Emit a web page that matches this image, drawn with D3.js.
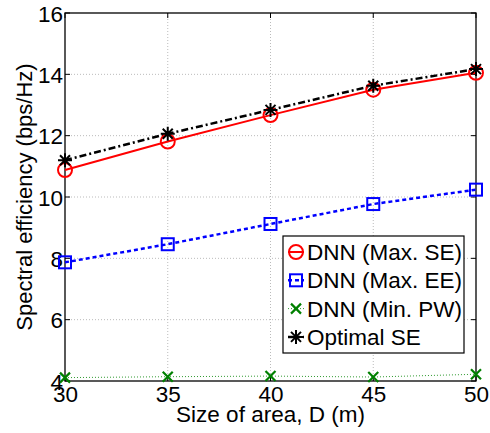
<!DOCTYPE html>
<html><head><meta charset="utf-8">
<script src="https://cdn.jsdelivr.net/npm/d3@7"></script>
<style>body{margin:0;background:#fff}svg{display:block}text{font-family:"Liberation Sans",Arial,sans-serif}</style>
</head><body><svg id="c" width="490" height="433"></svg>
<script>
const xValues = [30, 35, 40, 45, 50];
const maxSE = [10.88, 11.81, 12.67, 13.5, 14.05];
const maxEE = [7.87, 8.46, 9.12, 9.77, 10.24];
const minPW = [4.11, 4.14, 4.16, 4.13, 4.22];
const optSE = [11.2, 12.06, 12.84, 13.63, 14.17];
const xTicks = [30, 35, 40, 45, 50];
const yTicks = [4, 6, 8, 10, 12, 14, 16];
const seriesNames = ["DNN (Max. SE)", "DNN (Max. EE)", "DNN (Min. PW)", "Optimal SE"];

const svg = d3.select("#c");
const L = 65, R = 476, T = 13, B = 381;
const x = d3.scaleLinear().domain([30, 50]).range([L, R]);
const y = d3.scaleLinear().domain([4, 16]).range([B, T]);
const fs = 22.5;

// grid
const g = svg.append("g");
g.selectAll(".gx").data(xTicks.slice(1, -1)).enter().append("line")
  .attr("x1", d => x(d)).attr("x2", d => x(d)).attr("y1", T).attr("y2", B)
  .attr("stroke", "#bbb").attr("stroke-width", 1).attr("stroke-dasharray", "1,2");
g.selectAll(".gy").data(yTicks.slice(1, -1)).enter().append("line")
  .attr("y1", d => y(d)).attr("y2", d => y(d)).attr("x1", L).attr("x2", R)
  .attr("stroke", "#bbb").attr("stroke-width", 1).attr("stroke-dasharray", "1,2");

// axes
const axB = d3.axisBottom(x).tickValues(xTicks).tickSize(0).tickPadding(5).tickFormat(d3.format("d"));
const axL = d3.axisLeft(y).tickValues(yTicks).tickSize(0).tickPadding(2).tickFormat(d3.format("d"));
const gb = svg.append("g").attr("transform", `translate(0,${B})`).call(axB);
const gl = svg.append("g").attr("transform", `translate(${L},0)`).call(axL);
[gb, gl].forEach(a => { a.select(".domain").remove(); a.selectAll("text").attr("font-size", fs).attr("fill", "#000").style("font-family", '"Liberation Sans",Arial,sans-serif'); });
gl.selectAll("text").attr("dy", "0.36em");

// inner ticks on all sides
const tk = 5;
const tg = svg.append("g").attr("stroke", "#000").attr("stroke-width", 1);
xTicks.forEach(d => {
  tg.append("line").attr("x1", x(d)).attr("x2", x(d)).attr("y1", B).attr("y2", B - tk);
  tg.append("line").attr("x1", x(d)).attr("x2", x(d)).attr("y1", T).attr("y2", T + tk);
});
yTicks.forEach(d => {
  tg.append("line").attr("y1", y(d)).attr("y2", y(d)).attr("x1", L).attr("x2", L + tk);
  tg.append("line").attr("y1", y(d)).attr("y2", y(d)).attr("x1", R).attr("x2", R - tk);
});
svg.append("rect").attr("x", L).attr("y", T).attr("width", R - L).attr("height", B - T)
  .attr("fill", "none").attr("stroke", "#000").attr("stroke-width", 1.3);

// labels
svg.append("text").attr("x", (L + R) / 2).attr("y", 422).attr("text-anchor", "middle")
  .attr("font-size", fs).text("Size of area, D (m)");
svg.append("text").attr("transform", `translate(32,${(T + B) / 2}) rotate(-90)`).attr("text-anchor", "middle")
  .attr("font-size", 22).text("Spectral efficiency (bps/Hz)");

// markers
function marker(sel, type, color) {
  if (type === "o") sel.append("circle").attr("r", 7).attr("fill", "none").attr("stroke", color).attr("stroke-width", 2);
  else if (type === "s") sel.append("rect").attr("x", -6).attr("y", -6).attr("width", 12).attr("height", 12).attr("fill", "none").attr("stroke", color).attr("stroke-width", 2);
  else if (type === "x") sel.append("path").attr("d", "M-5,-5L5,5M-5,5L5,-5").attr("stroke", color).attr("stroke-width", 2.2);
  else if (type === "*") sel.append("path").attr("d", "M0,-7L0,7M-7,0L7,0M-5,-5L5,5M-5,5L5,-5").attr("stroke", color).attr("stroke-width", 2);
}

const series = [
  { name: seriesNames[0], vals: maxSE, color: "#ff0000", dash: null, width: 2, m: "o" },
  { name: seriesNames[1], vals: maxEE, color: "#0000ff", dash: "4,3", width: 2.5, m: "s" },
  { name: seriesNames[2], vals: minPW, color: "#2f9a2f", dash: "1,2", width: 1, m: "x" },
  { name: seriesNames[3], vals: optSE, color: "#000000", dash: "7,3,2,3", width: 2.5, m: "*" }
];
const mcol = ["#ff0000", "#0000ff", "#008000", "#000000"];
const line = d3.line().x((d, i) => x(xValues[i])).y(d => y(d));
series.forEach(s => {
  svg.append("path").datum(s.vals).attr("d", line).attr("fill", "none").attr("stroke", s.color)
    .attr("stroke-width", s.width).attr("stroke-dasharray", s.dash);
});
series.forEach((s, k) => {
  s.vals.forEach((v, i) => {
    const mg = svg.append("g").attr("transform", `translate(${x(xValues[i])},${y(v)})`);
    marker(mg, s.m, mcol[k]);
  });
});

// legend
const lx = 283, ly = 236, lw = 181, lh = 117;
svg.append("rect").attr("x", lx).attr("y", ly).attr("width", lw).attr("height", lh)
  .attr("fill", "#fff").attr("stroke", "#000").attr("stroke-width", 1.2);
series.forEach((s, i) => {
  const cy = ly + 16 + i * 28.3;
  svg.append("line").attr("x1", lx + 5).attr("x2", lx + 21).attr("y1", cy).attr("y2", cy)
    .attr("stroke", s.color).attr("stroke-width", s.width).attr("stroke-dasharray", s.dash);
  const mg = svg.append("g").attr("transform", `translate(${lx + 13},${cy})`);
  marker(mg, s.m, mcol[i]);
  svg.append("text").attr("x", lx + 24).attr("y", cy).attr("dy", "0.36em").attr("font-size", fs).text(s.name);
});
</script></body></html>
